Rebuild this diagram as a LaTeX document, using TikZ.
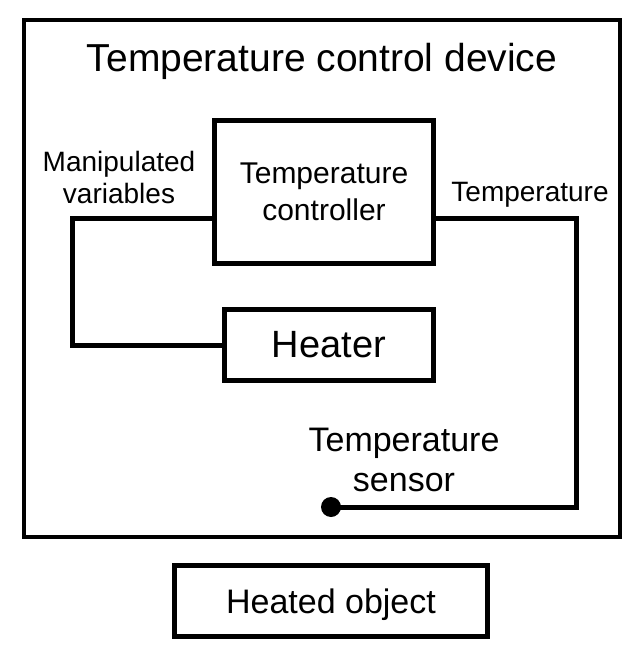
\documentclass[tikz,border=0pt]{standalone}
\usepackage{fontspec}
\setmainfont{Liberation Sans}
\begin{document}
\begin{tikzpicture}[x=1pt, y=-1pt,
    block/.style={draw, line width=5pt, inner sep=0pt},
    wire/.style={line width=5pt},
    lbl/.style={font=\fontsize{28}{32}\selectfont, align=center}]
    \useasboundingbox (0,0) rectangle (642,660);
    \node[draw, line width=4pt, minimum width=596pt, minimum height=517pt] (device) at (322,278.5) {};
    \node[anchor=base, font=\fontsize{39}{44}\selectfont] (title) at (322,72) {Temperature control device};
    \node[block, minimum width=219pt, minimum height=143pt, font=\fontsize{30}{37}\selectfont, align=center] (ctrl) at (324,192) {Temperature\\controller};
    \node[block, minimum width=209pt, minimum height=71pt, font=\fontsize{38}{44}\selectfont] (heater) at (329,345) {Heater};
    \node[block, minimum width=313pt, minimum height=71pt, text depth=0pt, font=\fontsize{34}{40}\selectfont] (object) at (331,601) {Heated object};
    \node[lbl] (mv) at (119,177) {Manipulated\\variables};
    \node[lbl, anchor=base] (temp) at (530,202) {Temperature};
    \node[font=\fontsize{34}{40}\selectfont, align=center] (sensor) at (404,460) {Temperature\\sensor};
    \node[circle, fill, inner sep=0pt, minimum size=20pt] (probe) at (331,507) {};
    \coordinate (mvcorner) at (72,218);
    \coordinate (tcorner) at (576,218);
    \draw[wire] (ctrl.west |- mvcorner) -- (mvcorner) |- (heater.west);
    \draw[wire] (ctrl.east |- tcorner) -- (tcorner) |- (probe.center);
\end{tikzpicture}
\end{document}
